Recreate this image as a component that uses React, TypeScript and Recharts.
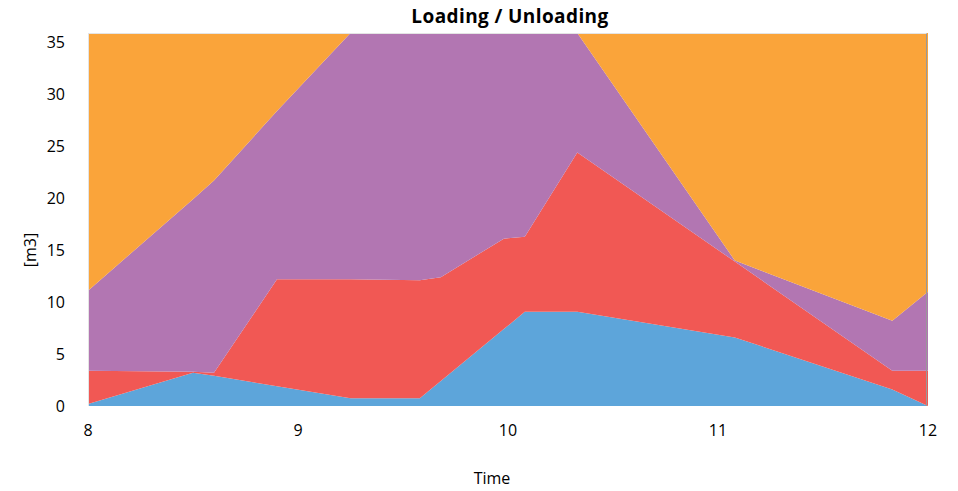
import React from "react";
import { AreaChart, Area, XAxis, YAxis } from "recharts";

const times = [8, 8.5, 8.6, 8.9, 9.25, 9.58, 9.68, 9.98, 10.08, 10.33, 11.08, 11.83, 12];
const blueVals = [0.2, 3.2, 2.9, 1.9, 0.74, 0.74, 2.4, 7.4, 9.07, 9.07, 6.6, 1.6, 0];
const redVals = [3.2, 0.1, 0.3, 10.3, 11.46, 11.36, 10.0, 8.7, 7.23, 15.33, 7.3, 1.8, 3.4];
const purpleVals = [7.7, 16.6, 18.5, 16.2, 23.7, 23.8, 23.5, 19.8, 19.6, 11.5, 0.1, 4.8, 7.6];
const orangeVals = [24.8, 16.0, 14.2, 7.5, 0, 0, 0, 0, 0, 0, 22.0, 27.7, 24.9];
const yTicks = [0, 5, 10, 15, 20, 25, 30, 35];
const xTicks = [8, 9, 10, 11, 12];

const data = times.map((t, i) => ({
  t,
  blue: blueVals[i],
  red: redVals[i],
  purple: purpleVals[i],
  orange: orangeVals[i],
}));

const FONT = "'Open Sans', 'Noto Sans', sans-serif";

export default function App() {
  return (
    <div style={{ position: "absolute", left: 0, top: 0, width: 958, height: 491, fontFamily: FONT, background: "#fff" }}>
      <AreaChart
        width={958}
        height={491}
        data={data}
        margin={{ top: 33, right: 30, bottom: 35, left: 28 }}
      >
        <XAxis
          dataKey="t"
          type="number"
          domain={[8, 12]}
          ticks={xTicks}
          axisLine={false}
          tickLine={false}
          tickSize={6}
          tickMargin={13}
          height={50}
          tick={{ fill: "#000", fontSize: 16, fontFamily: FONT }}
        />
        <YAxis
          type="number"
          domain={[0, 35.9]}
          ticks={yTicks}
          allowDataOverflow
          axisLine={false}
          tickLine={false}
          tickSize={6}
          tickMargin={17}
          width={60}
          tick={{ fill: "#000", fontSize: 16, fontFamily: FONT }}
        />
        <Area type="linear" dataKey="blue" stackId="a" fill="#5DA5DA" fillOpacity={1} stroke="none" isAnimationActive={false} />
        <Area type="linear" dataKey="red" stackId="a" fill="#F15854" fillOpacity={1} stroke="none" isAnimationActive={false} />
        <Area type="linear" dataKey="purple" stackId="a" fill="#B276B2" fillOpacity={1} stroke="none" isAnimationActive={false} />
        <Area type="linear" dataKey="orange" stackId="a" fill="#FAA43A" fillOpacity={1} stroke="none" isAnimationActive={false} />
      </AreaChart>
      <div
        style={{
          position: "absolute",
          left: 88,
          top: 33,
          width: 839,
          height: 373,
          borderTop: "1px solid #e4e4e4",
          borderLeft: "1px solid #e4e4e4",
          borderRight: "1px solid #999",
          pointerEvents: "none",
          boxSizing: "border-box",
        }}
      />
      <div
        style={{
          position: "absolute",
          left: 310,
          width: 400,
          top: 2,
          textAlign: "center",
          fontWeight: 700,
          fontSize: 19,
          letterSpacing: "0.4px",
          lineHeight: "28px",
          color: "#000",
        }}
      >
        Loading / Unloading
      </div>
      <div
        style={{
          position: "absolute",
          left: 442,
          width: 100,
          top: 467,
          textAlign: "center",
          fontSize: 16,
          lineHeight: "22px",
          color: "#000",
        }}
      >
        Time
      </div>
      <div
        style={{
          position: "absolute",
          left: 30 - 50,
          top: 250 - 11,
          width: 100,
          textAlign: "center",
          fontSize: 16,
          lineHeight: "22px",
          color: "#000",
          transform: "rotate(-90deg)",
        }}
      >
        [m3]
      </div>
    </div>
  );
}
